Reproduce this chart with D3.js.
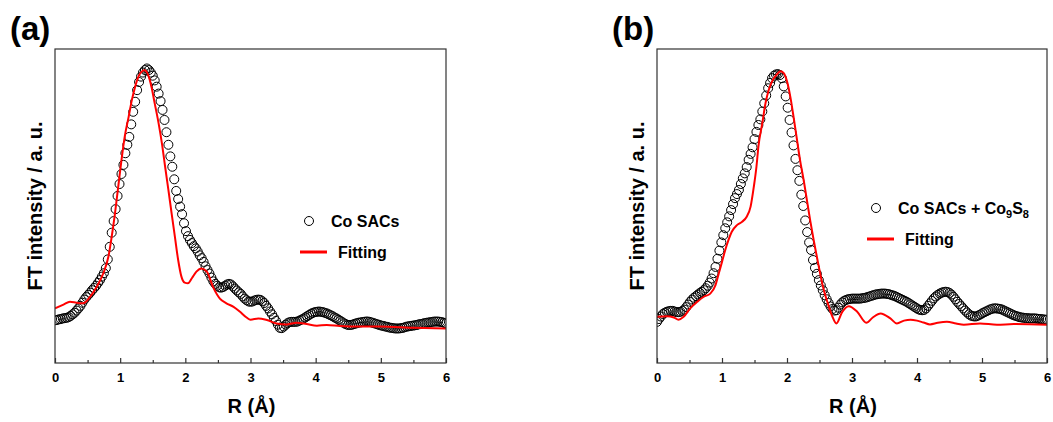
<!DOCTYPE html>
<html lang="en">
<head>
<meta charset="UTF-8">
<title>FT-EXAFS: Co SACs</title>
<script src="https://d3js.org/d3.v7.min.js"></script>
<style>
    body { margin: 0; background: #fff; }
    svg { display: block; font-family: "Liberation Sans", Arial, sans-serif; }
    .tick text { font-size: 13px; font-weight: bold; fill: #000; }
</style>
</head>
<body>
<svg width="1053" height="422"></svg>
<script>
// R grid step of the measured data (Å)
const rStep = 0.03;

// panel (a): Co SACs, data read on a 0.03 Å grid from 0 to 6
const sacsA = [
    1.36, 1.37, 1.39, 1.40, 1.42, 1.43, 1.44, 1.46, 1.50, 1.55,
    1.60, 1.67, 1.74, 1.82, 1.92, 2.02, 2.10, 2.17, 2.24, 2.32,
    2.39, 2.46, 2.55, 2.64, 2.75, 2.86, 3.02, 3.30, 3.70, 4.15,
    4.52, 4.90, 5.32, 5.70, 6.02, 6.31, 6.68, 6.95, 7.20, 7.60,
    8.00, 8.32, 8.69, 8.95, 9.12, 9.25, 9.33, 9.38, 9.33, 9.25,
    9.15, 9.00, 8.80, 8.58, 8.34, 8.06, 7.74, 7.35, 6.95, 6.58,
    6.25, 5.85, 5.48, 5.22, 4.98, 4.74, 4.45, 4.20, 4.04, 3.92,
    3.82, 3.72, 3.65, 3.55, 3.43, 3.34, 3.22, 3.08, 2.96, 2.85,
    2.72, 2.60, 2.52, 2.46, 2.41, 2.40, 2.42, 2.46, 2.50, 2.52,
    2.50, 2.44, 2.37, 2.31, 2.25, 2.20, 2.12, 2.05, 2.00, 1.96,
    1.95, 1.96, 1.99, 2.01, 2.02, 2.01, 1.97, 1.91, 1.82, 1.74,
    1.64, 1.55, 1.44, 1.34, 1.22, 1.12, 1.11, 1.16, 1.22, 1.27,
    1.30, 1.31, 1.31, 1.31, 1.32, 1.35, 1.38, 1.41, 1.45, 1.49,
    1.53, 1.57, 1.60, 1.62, 1.63, 1.64, 1.63, 1.62, 1.60, 1.58,
    1.55, 1.52, 1.49, 1.45, 1.42, 1.38, 1.34, 1.30, 1.26, 1.23,
    1.21, 1.21, 1.22, 1.24, 1.26, 1.28, 1.29, 1.30, 1.31, 1.32,
    1.32, 1.31, 1.29, 1.27, 1.25, 1.23, 1.21, 1.19, 1.18, 1.16,
    1.15, 1.13, 1.12, 1.11, 1.10, 1.10, 1.10, 1.11, 1.12, 1.14,
    1.16, 1.17, 1.18, 1.19, 1.20, 1.21, 1.23, 1.24, 1.25, 1.27,
    1.28, 1.29, 1.30, 1.31, 1.32, 1.32, 1.32, 1.31, 1.30, 1.28,
    1.26
];

// panel (a): fitting curve
const fitAR = [0, 0.13, 0.23, 0.33, 0.43, 0.54, 0.64, 0.74, 0.82, 0.87,
    0.92, 0.97, 1.02, 1.07, 1.13, 1.18, 1.23, 1.28, 1.33, 1.37,
    1.43, 1.48, 1.53, 1.59, 1.64, 1.69, 1.74, 1.79, 1.84, 1.89,
    1.94, 1.99, 2.04, 2.10, 2.17, 2.25, 2.33, 2.43, 2.53, 2.63,
    2.74, 2.84, 2.94, 3.00, 3.12, 3.25, 3.40, 3.56, 3.71, 3.86,
    4.02, 4.17, 4.37, 4.68, 4.99, 5.50, 6.00];
const fitAI = [1.74, 1.86, 1.95, 1.92, 1.90, 2.11, 2.43, 2.85, 3.39, 4.02,
    4.76, 5.61, 6.46, 7.21, 7.84, 8.38, 8.80, 9.12, 9.28, 9.32,
    9.17, 8.80, 8.27, 7.63, 7.00, 6.25, 5.51, 4.76, 4.02, 3.28,
    2.75, 2.56, 2.54, 2.70, 2.91, 3.01, 2.91, 2.40, 2.05, 1.90,
    1.79, 1.63, 1.45, 1.38, 1.42, 1.37, 1.26, 1.23, 1.28, 1.24,
    1.19, 1.21, 1.18, 1.16, 1.16, 1.12, 1.10];

// panel (b): Co SACs + Co9S8, same grid
const sacsB = [
    1.31, 1.40, 1.48, 1.56, 1.60, 1.63, 1.65, 1.66, 1.66, 1.64,
    1.62, 1.62, 1.63, 1.66, 1.70, 1.78, 1.86, 1.95, 2.02, 2.08,
    2.13, 2.18, 2.23, 2.27, 2.32, 2.38, 2.46, 2.56, 2.69, 2.86,
    3.06, 3.32, 3.58, 3.84, 4.07, 4.29, 4.48, 4.67, 4.87, 5.06,
    5.25, 5.38, 5.51, 5.70, 5.88, 6.04, 6.24, 6.47, 6.66, 6.87,
    7.13, 7.36, 7.58, 7.76, 8.01, 8.27, 8.52, 8.75, 8.92, 9.07,
    9.15, 9.19, 9.20, 9.17, 9.07, 8.81, 8.49, 8.13, 7.74, 7.34,
    6.93, 6.50, 6.14, 5.80, 5.36, 5.00, 4.54, 4.17, 3.84, 3.60,
    3.28, 3.03, 2.84, 2.64, 2.47, 2.32, 2.16, 2.03, 1.91, 1.80,
    1.72, 1.67, 1.68, 1.76, 1.86, 1.93, 1.98, 2.01, 2.03, 2.04,
    2.05, 2.05, 2.05, 2.05, 2.05, 2.06, 2.07, 2.08, 2.10, 2.12,
    2.14, 2.16, 2.18, 2.19, 2.20, 2.21, 2.21, 2.21, 2.20, 2.19,
    2.17, 2.15, 2.13, 2.10, 2.07, 2.04, 2.01, 1.98, 1.95, 1.91,
    1.87, 1.83, 1.79, 1.75, 1.71, 1.69, 1.68, 1.69, 1.74, 1.82,
    1.90, 1.98, 2.06, 2.12, 2.17, 2.21, 2.24, 2.26, 2.27, 2.26,
    2.23, 2.18, 2.11, 2.03, 1.95, 1.88, 1.81, 1.74, 1.67, 1.61,
    1.55, 1.51, 1.49, 1.48, 1.49, 1.52, 1.55, 1.59, 1.62, 1.65,
    1.68, 1.71, 1.73, 1.74, 1.74, 1.73, 1.72, 1.70, 1.67, 1.64,
    1.61, 1.58, 1.55, 1.52, 1.50, 1.48, 1.46, 1.45, 1.44, 1.43,
    1.43, 1.42, 1.42, 1.42, 1.42, 1.41, 1.40, 1.40, 1.39, 1.38,
    1.38
];

// panel (b): fitting curve
const fitBR = [0, 0.15, 0.26, 0.33, 0.41, 0.51, 0.62, 0.72, 0.82, 0.90,
    0.95, 1.00, 1.05, 1.10, 1.15, 1.23, 1.31, 1.38, 1.44, 1.49,
    1.53, 1.56, 1.62, 1.67, 1.72, 1.77, 1.84, 1.90, 1.95, 2.00,
    2.05, 2.10, 2.15, 2.20, 2.26, 2.31, 2.36, 2.41, 2.46, 2.51,
    2.56, 2.62, 2.69, 2.76, 2.85, 2.95, 3.08, 3.22, 3.32, 3.44,
    3.59, 3.69, 3.80, 3.90, 4.00, 4.10, 4.20, 4.32, 4.46, 4.60,
    4.72, 4.97, 5.23, 5.49, 6.00];
const fitBI = [1.47, 1.49, 1.45, 1.38, 1.47, 1.74, 1.95, 2.11, 2.21, 2.48,
    2.85, 3.22, 3.60, 3.92, 4.18, 4.39, 4.50, 4.66, 4.98, 5.62,
    6.25, 6.89, 7.64, 8.28, 8.70, 8.97, 9.18, 9.29, 9.23, 8.97,
    8.49, 7.85, 7.16, 6.47, 5.78, 5.14, 4.50, 3.92, 3.38, 2.85,
    2.37, 1.95, 1.52, 1.26, 1.63, 1.81, 1.63, 1.28, 1.45, 1.58,
    1.42, 1.26, 1.35, 1.38, 1.35, 1.29, 1.23, 1.28, 1.31, 1.26,
    1.22, 1.26, 1.22, 1.24, 1.22];

const xTicks = [0, 1, 2, 3, 4, 5, 6];
const xMinor = [0.5, 1.5, 2.5, 3.5, 4.5, 5.5];

const svg = d3.select("svg");

function drawPanel(p) {
    const x = d3.scaleLinear().domain([0, 6]).range([p.left, p.right]);
    const y = d3.scaleLinear().domain([0, 10]).range([p.bottom, p.top]);
    const g = svg.append("g");

    g.append("clipPath").attr("id", p.id + "-clip")
        .append("rect")
        .attr("x", p.left).attr("y", p.top)
        .attr("width", p.right - p.left).attr("height", p.bottom - p.top);

    const plot = g.append("g").attr("clip-path", `url(#${p.id}-clip)`);

    // measured data as open circles
    plot.selectAll("circle")
        .data(p.data.map((v, i) => [i * rStep, v]))
        .join("circle")
        .attr("cx", d => x(d[0]))
        .attr("cy", d => y(d[1]))
        .attr("r", 4.5)
        .attr("fill", "none")
        .attr("stroke", "#000")
        .attr("stroke-width", 1);

    // fitting line
    const line = d3.line()
        .x(d => x(d[0]))
        .y(d => y(d[1]))
        .curve(d3.curveMonotoneX);
    plot.append("path")
        .datum(p.fitR.map((r, i) => [r, p.fitI[i]]))
        .attr("d", line)
        .attr("fill", "none")
        .attr("stroke", "#ff0000")
        .attr("stroke-width", 2);

    // frame
    g.append("rect")
        .attr("x", p.left).attr("y", p.top)
        .attr("width", p.right - p.left).attr("height", p.bottom - p.top)
        .attr("fill", "none")
        .attr("stroke", "#333")
        .attr("stroke-width", 1.2);

    // bottom axis, ticks pointing inward
    g.append("g")
        .attr("transform", `translate(0,${p.bottom})`)
        .call(d3.axisBottom(x).tickValues(xTicks).tickFormat(d3.format("d"))
            .tickSizeInner(-5).tickSizeOuter(0).tickPadding(9.5))
        .call(a => a.select(".domain").remove())
        .call(a => a.selectAll("line").attr("stroke", "#333").attr("stroke-width", 1.2));

    g.append("g")
        .attr("transform", `translate(0,${p.bottom})`)
        .call(d3.axisBottom(x).tickValues(xMinor).tickFormat("")
            .tickSizeInner(-3).tickSizeOuter(0))
        .call(a => a.select(".domain").remove())
        .call(a => a.selectAll("line").attr("stroke", "#333").attr("stroke-width", 1.2));

    // axis titles
    g.append("text")
        .attr("x", (p.left + p.right) / 2 + 1)
        .attr("y", 413)
        .attr("text-anchor", "middle")
        .attr("font-size", 20).attr("font-weight", "bold")
        .text("R (Å)");

    g.append("text")
        .attr("transform", `translate(${p.left - 13},206) rotate(-90)`)
        .attr("text-anchor", "middle")
        .attr("font-size", 20).attr("font-weight", "bold")
        .text("FT intensity / a. u.");

    // panel letter
    g.append("text")
        .attr("x", p.left - 45).attr("y", 40)
        .attr("font-size", 33).attr("font-weight", "bold")
        .text(p.letter);

    // legend
    g.append("circle")
        .attr("cx", p.legX).attr("cy", p.legY)
        .attr("r", 4.5)
        .attr("fill", "none").attr("stroke", "#000");
    const lt = g.append("text")
        .attr("x", p.legX + 22).attr("y", p.legY + 6)
        .attr("font-size", 16).attr("font-weight", "bold");
    p.label.forEach(part => {
        lt.append("tspan")
            .attr("font-size", part.sub ? 11 : 16)
            .attr("dy", part.sub ? 4 : (part.back ? -4 : 0))
            .text(part.t);
    });
    g.append("line")
        .attr("x1", p.legX - 9).attr("x2", p.legX + 18)
        .attr("y1", p.legY + 31).attr("y2", p.legY + 31)
        .attr("stroke", "#ff0000").attr("stroke-width", 3);
    g.append("text")
        .attr("x", p.legX + 29).attr("y", p.legY + 37)
        .attr("font-size", 16).attr("font-weight", "bold")
        .text("Fitting");
}

drawPanel({
    id: "a", letter: "(a)",
    left: 55, right: 446, top: 49, bottom: 363,
    data: sacsA, fitR: fitAR, fitI: fitAI,
    legX: 309, legY: 221,
    label: [{ t: "Co SACs" }]
});

drawPanel({
    id: "b", letter: "(b)",
    left: 657, right: 1047, top: 49, bottom: 363,
    data: sacsB, fitR: fitBR, fitI: fitBI,
    legX: 876, legY: 208,
    label: [{ t: "Co SACs + Co" }, { t: "9", sub: true }, { t: "S", back: true }, { t: "8", sub: true }]
});
</script>
</body>
</html>
